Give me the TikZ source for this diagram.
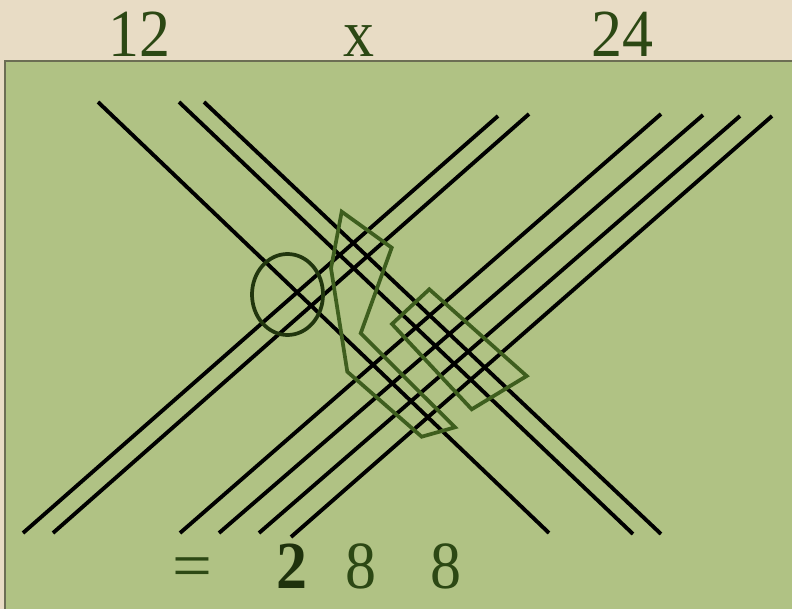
\documentclass[tikz,border=0pt]{standalone}
\usepackage{fontspec}
\setmainfont{Liberation Serif}
\usepackage{tikz}
\usetikzlibrary{positioning}
\definecolor{kertas}{RGB}{232, 220, 197}
\definecolor{papan}{RGB}{176, 194, 132}
\definecolor{bingkai}{RGB}{108, 110, 84}
\definecolor{tinta}{RGB}{44, 72, 20}
\definecolor{tintatua}{RGB}{30, 50, 12}
\definecolor{hijaugaris}{RGB}{62, 94, 30}

\begin{document}
\begin{tikzpicture}[
    x=0.75pt, y=-0.75pt,
    angka/.style={text=tinta, anchor=base, inner sep=0pt,
                  font=\fontsize{50.5}{50.5}\selectfont},
    garis/.style={black, line width=2.9pt},
    kelompok/.style={draw=hijaugaris, line width=2.8pt, line join=miter},
    lingkar/.style={draw=tintatua!90!hijaugaris, line width=2.8pt}
  ]
    \clip (0,0) rectangle (792,609);
    \fill[kertas] (0,0) rectangle (792,609);
    \draw[bingkai, line width=1.6pt, fill=papan] (5,61) rectangle (800,620);

    % angka di atas
    \node[angka] (n12)  at (139,57) {\scalebox{0.92}[1]{12}};
    \node[angka] (kali) at (359,57) {\scalebox{0.92}[1]{x}};
    \node[angka] (n24)  at (622,57) {\scalebox{0.92}[1]{24}};

    % garis untuk 12
    \foreach \xa/\ya/\xb/\yb in {98/102/549/533, 179/102/633/534, 204/102/661/534}
      \draw[garis] (\xa,\ya) -- (\xb,\yb);
    % garis untuk 24
    \foreach \xa/\ya/\xb/\yb in {498/116/23/533, 529/114/53/533,
                                661/114/180/533, 703/115/219/533,
                                740/116/259/533, 772/116/291/537}
      \draw[garis] (\xa,\ya) -- (\xb,\yb);

    % kelompok titik potong
    \draw[lingkar] (287.5,294.5) ellipse [x radius=35.5, y radius=40.5];
    \draw[kelompok] (341.7,211.7) -- (391.7,247.7) -- (360.7,333.3) -- (455,427.3)
                    -- (421.7,436.7) -- (347.3,371.7) -- (331,268.3) -- cycle;
    \draw[kelompok] (429.3,289.3) -- (526.7,376) -- (471.7,409.3) -- (392,324) -- cycle;

    % hasil
    \node[angka] (sama) at (192,588) {\scalebox{1.05}[1]{=}};
    \node[angka, text=tintatua] (h1) at (292,588) {\scalebox{0.92}[1]{\bfseries 2}};
    \node[angka] (h2) at (361,588) {\scalebox{0.92}[1]{8}};
    \node[angka] (h3) at (446,588) {\scalebox{0.92}[1]{8}};
  \end{tikzpicture}
\end{document}
